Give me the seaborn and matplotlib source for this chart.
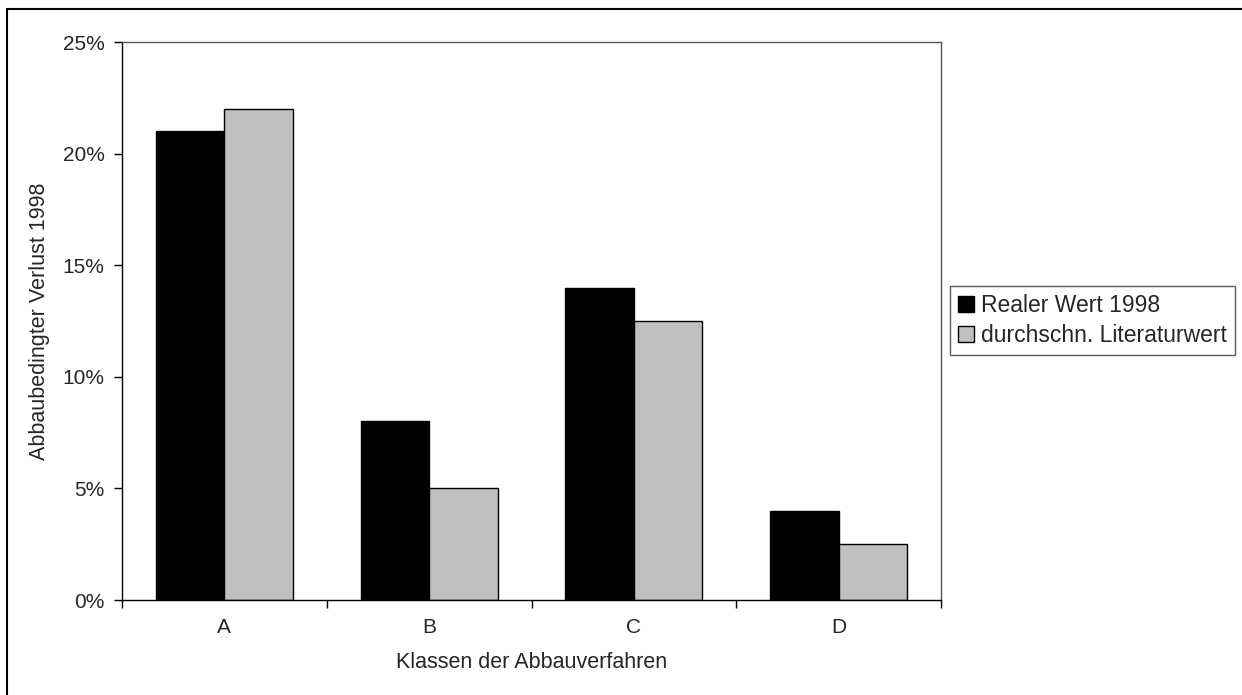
import matplotlib
matplotlib.use("Agg")
import matplotlib.pyplot as plt
import seaborn as sns
import pandas as pd
from matplotlib.lines import Line2D
from matplotlib.ticker import FuncFormatter

categories = ["A", "B", "C", "D"]
real_1998 = [21.0, 8.0, 14.0, 4.0]
literatur = [22.0, 5.0, 12.5, 2.5]
series_names = ["Realer Wert 1998", "durchschn. Literaturwert"]
yticks = [0, 5, 10, 15, 20, 25]

df = pd.DataFrame({
    "Klasse": categories * 2,
    "Wert": real_1998 + literatur,
    "Serie": [series_names[0]] * 4 + [series_names[1]] * 4,
})

sns.set_style("white")
plt.rcParams["font.family"] = ["Liberation Sans", "DejaVu Sans"]

fig = plt.figure(figsize=(12.42, 6.95), dpi=100)
ax = fig.add_axes([122 / 1242, 1 - 600 / 695, (941 - 122) / 1242, (600 - 42) / 695])

colors = ["#000000", "#c0c0c0"]
sns.barplot(data=df, x="Klasse", y="Wert", hue="Serie", order=categories,
            hue_order=series_names, palette=colors, width=0.67,
            edgecolor="black", linewidth=1.0, saturation=1, ax=ax, legend=False)

ax.set_xlim(-0.5, 3.5)
ax.set_ylim(0, 25)
ax.set_yticks(yticks)
ax.yaxis.set_major_formatter(FuncFormatter(lambda v, p: f"{int(v)}%"))
ax.set_xticks([-0.5, 0.5, 1.5, 2.5, 3.5])
ax.set_xticklabels([])
ax.set_xticks(range(len(categories)), minor=True)
ax.set_xticklabels(categories, minor=True)
ax.tick_params(axis="x", which="major", length=6, width=1, direction="out", color="black", bottom=True)
ax.tick_params(axis="x", which="minor", length=0, pad=13, labelsize=15)
ax.tick_params(axis="y", length=6, width=1, direction="out", color="black", left=True, labelsize=15, pad=6.5)

for side in ["left", "bottom"]:
    ax.spines[side].set_color("black")
    ax.spines[side].set_linewidth(1)
for side in ["top", "right"]:
    ax.spines[side].set_color("#555555")
    ax.spines[side].set_linewidth(1)

ax.set_xlabel("Klassen der Abbauverfahren", fontsize=15.5, labelpad=11)
ax.set_ylabel("Abbaubedingter Verlust 1998", fontsize=15.5, labelpad=9)

handles = [Line2D([0], [0], marker="s", linestyle="none", markersize=12,
                  markerfacecolor=c, markeredgecolor="black", markeredgewidth=1)
           for c in colors]
leg = fig.legend(handles, series_names, loc="upper left",
                 bbox_to_anchor=(950 / 1242, 1 - 286 / 695), fontsize=16.5,
                 frameon=True, fancybox=False, edgecolor="#333333",
                 handlelength=0.7, handletextpad=0.3, borderpad=0.35,
                 labelspacing=0.3, borderaxespad=0)
leg.get_frame().set_linewidth(1)

# outer chart frame (only left and top edges visible in the reference)
fig.add_artist(Line2D([7 / 1242, 7 / 1242], [0, 1 - 9 / 695], transform=fig.transFigure,
                      color="black", linewidth=1.5))
fig.add_artist(Line2D([7 / 1242, 1], [1 - 9 / 695, 1 - 9 / 695], transform=fig.transFigure,
                      color="black", linewidth=1.5))

fig.savefig("out.png", dpi=100)
